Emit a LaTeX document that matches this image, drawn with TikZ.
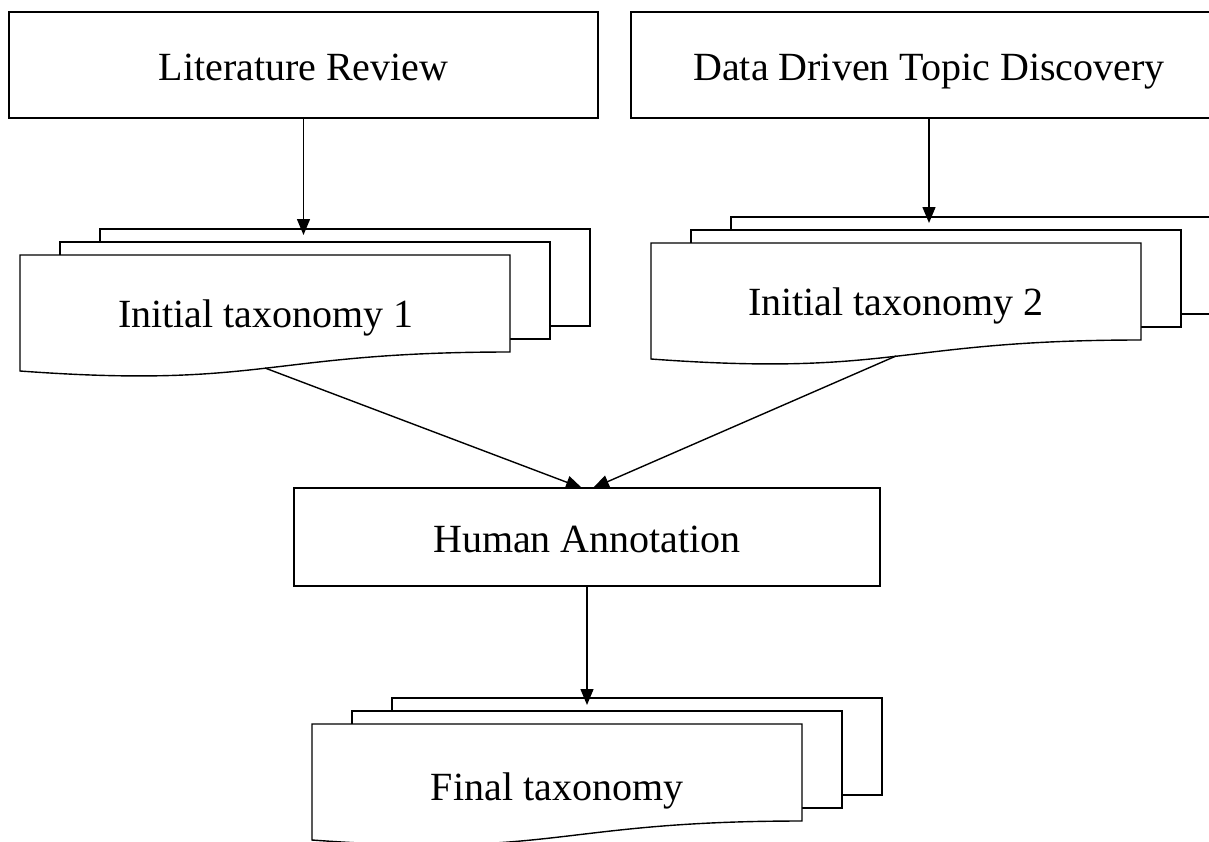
\documentclass[tikz,border=0pt]{standalone}
\usepackage{fontspec}
\setmainfont{Liberation Serif}
\usetikzlibrary{arrows.meta}
\begin{document}
\begin{tikzpicture}[x=0.5pt,y=-0.5pt,
  every node/.style={font=\fontsize{20}{24}\selectfont},
  ln/.style={line width=0.7pt},
  box/.style={draw,line width=0.7pt,fill=white,inner sep=0pt,text height=15pt,text depth=0pt},
  sheet/.style={draw,line width=0.7pt,fill=white},
  arr/.style={line width=0.7pt,-{Triangle[length=8pt,width=6.5pt]}},
  lbl/.style={anchor=base,inner sep=0pt}
]
\clip (0,0) rectangle (1209,841);
\fill[white] (0,0) rectangle (1209,841);

% top boxes
\node[box,minimum width=294.5pt,minimum height=53pt] (lr) at (303.5,65) {Literature Review};
\node[box,minimum width=298pt,minimum height=53pt] (dd) at (929,65) {Data Driven Topic Discovery};

% stack 1
\draw[sheet] (100,229) rectangle (590,326);
\draw[sheet] (60,242) rectangle (550,339);
\draw[sheet] (20,255) -- (510,255) -- (510,352) .. controls (265,352) and (265,389) .. (20,371) -- cycle;
\node[lbl] (it1) at (266,327) {Initial taxonomy 1};
\coordinate (d1t) at (303.5,235);
\coordinate (d1b) at (265,368);

% stack 2
\draw[sheet] (731,217) rectangle (1221,314);
\draw[sheet] (691,230) rectangle (1181,327);
\draw[sheet] (651,243) -- (1141,243) -- (1141,340) .. controls (896,340) and (896,377) .. (651,359) -- cycle;
\node[lbl] (it2) at (896,315) {Initial taxonomy 2};
\coordinate (d2t) at (929,223);
\coordinate (d2b) at (896,356);

% human annotation
\node[box,minimum width=293pt,minimum height=49pt] (ha) at (587,537) {Human Annotation};
\coordinate (ha1) at (582,488);
\coordinate (ha2) at (593,488);

% final stack
\draw[sheet] (392,698) rectangle (882,795);
\draw[sheet] (352,711) rectangle (842,808);
\draw[sheet] (312,724) -- (802,724) -- (802,821) .. controls (557,821) and (557,858) .. (312,840) -- cycle;
\node[lbl] (ft) at (557,800) {Final taxonomy};
\coordinate (ft) at (587,705);

% connectors
\draw[arr] (lr.south) -- (d1t);
\draw[arr] (dd.south) -- (d2t);
\draw[arr] (d1b) -- (ha1);
\draw[arr] (d2b) -- (ha2);
\draw[arr] (ha.south) -- (ft);
\end{tikzpicture}
\end{document}
